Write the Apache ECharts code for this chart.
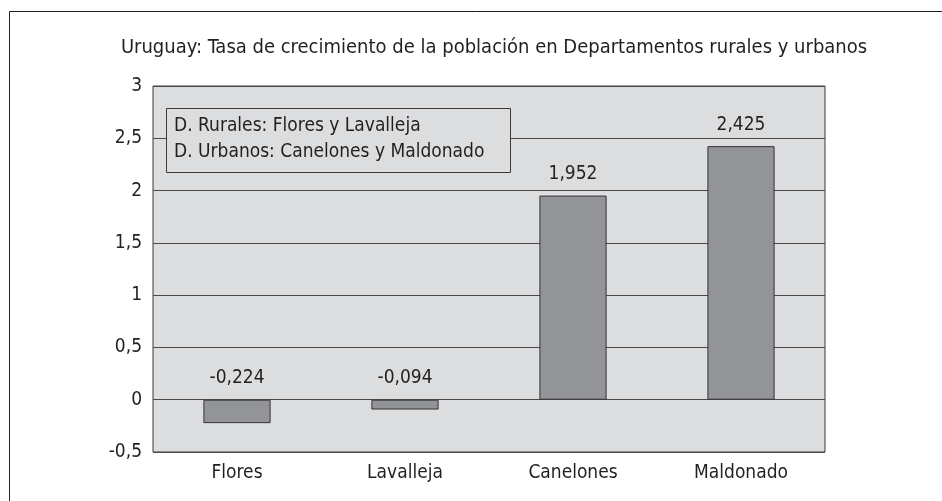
<!DOCTYPE html>
<html>
<head>
<meta charset="utf-8">
<script src="https://cdn.jsdelivr.net/npm/echarts@6/dist/echarts.min.js"></script>
<style>
  html, body { margin: 0; padding: 0; background: #fff; }
  #chart { width: 942px; height: 501px; }
</style>
</head>
<body>
<div id="chart"></div>
<script>
var categories = ['Flores', 'Lavalleja', 'Canelones', 'Maldonado'];
var values = [-0.224, -0.094, 1.952, 2.425];
var legendLines = ['D. Rurales: Flores y Lavalleja', 'D. Urbanos: Canelones y Maldonado'];

var FONT = "'Liberation Sans Narrow', 'DejaVu Sans Condensed', 'Liberation Sans', sans-serif";
function comma(v) { return String(v).replace('.', ','); }

var chart = echarts.init(document.getElementById('chart'));
chart.setOption({
  animation: false,
  backgroundColor: '#fff',
  textStyle: { fontFamily: FONT, color: '#231f20' },
  title: {
    text: 'Uruguay: Tasa de crecimiento de la población en Departamentos rurales y urbanos',
    left: 489, top: 33, textAlign: 'center',
    textStyle: { fontFamily: FONT, fontSize: 20, fontWeight: 'normal', color: '#231f20' }
  },
  grid: { left: 153, right: 117, top: 86, bottom: 49, show: true,
          backgroundColor: '#dcdddf', borderColor: '#3a3a3a', borderWidth: 1 },
  xAxis: {
    type: 'category', data: categories,
    axisLine: { show: false }, axisTick: { show: false },
    axisLabel: { fontFamily: FONT, fontSize: 19, color: '#231f20', margin: 12 }
  },
  yAxis: {
    type: 'value', min: -0.5, max: 3, interval: 0.5,
    axisLine: { show: false }, axisTick: { show: false },
    axisLabel: { fontFamily: FONT, fontSize: 19, color: '#231f20', margin: 11,
                 formatter: function (v) { return comma(v); } },
    splitLine: { lineStyle: { color: '#4a4a4a', width: 1 } }
  },
  series: [{
    type: 'bar', barWidth: '40%',
    data: values,
    itemStyle: { color: '#939497', borderColor: '#333', borderWidth: 1 },
    label: {
      show: true, position: 'top', distance: 12,
      fontFamily: FONT, fontSize: 19, color: '#231f20',
      formatter: function (p) { return comma(p.value); }
    }
  }],
  graphic: [
    { type: 'rect', left: 7, top: 9, shape: { width: 940, height: 500 },
      style: { fill: 'none', stroke: '#231f20', lineWidth: 1 }, z: 100 },
    { type: 'rect', left: 166, top: 108, shape: { width: 344, height: 64 },
      style: { fill: '#dcdddf', stroke: '#3a3a3a', lineWidth: 1 }, z: 50 },
    { type: 'text', left: 174, top: 113, z: 51,
      style: { text: legendLines.join('\n'), fontFamily: FONT, fontSize: 19,
               lineHeight: 26, fill: '#231f20' } }
  ]
});
</script>
</body>
</html>
